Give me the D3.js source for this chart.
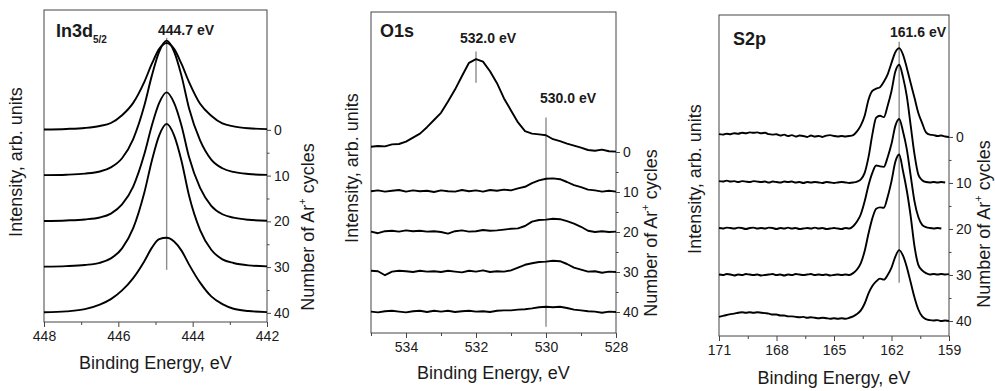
<!DOCTYPE html>
<html>
<head>
<meta charset="utf-8">
<script src="https://cdn.jsdelivr.net/npm/d3@7"></script>
<style>
  body { margin: 0; background: #fff; }
  svg text { font-family: "Liberation Sans", Arial, sans-serif; fill: #1a1a1a; }
</style>
</head>
<body>
<div id="chart"></div>
<script>
// Ar+ sputtering cycles, each spectrum sits on its own cycle tick
const cycles = [0, 10, 20, 30, 40];
const cycleMinor = [5, 15, 25, 35];

// In3d5/2 spectra (intensity in units of the cycle axis)
const inEnergy = [448, 447.4, 446.9, 446.5, 446.2, 445.9, 445.6, 445.3, 445.1, 444.9, 444.7, 444.5, 444.3, 444.1, 443.8, 443.5, 443.2, 442.9, 442.5, 442];
const in0  = [0.07, 0.2, 0.42, 0.85, 1.5, 3.2, 5.9, 10.5, 14.4, 17.7, 19, 17.7, 14.4, 10.5, 5.7, 3.1, 1.4, 0.77, 0.35, 0.15];
const in10 = [0.1, 0.2, 0.44, 0.9, 1.8, 3.8, 8, 15.3, 21.8, 27.1, 29.5, 27.1, 21.8, 14.8, 7.7, 3.5, 1.6, 0.8, 0.35, 0.15];
const in20 = [0.08, 0.2, 0.42, 0.85, 1.7, 3.7, 7.6, 14.7, 20.9, 25.9, 28.2, 25.9, 20.9, 14.1, 7.3, 3.4, 1.55, 0.8, 0.34, 0.14];
const in30 = [0.1, 0.22, 0.47, 0.94, 1.9, 4.1, 8.5, 16.3, 23.2, 28.8, 31.3, 28.8, 23.2, 15.7, 8.1, 3.8, 1.7, 0.9, 0.38, 0.16];
const in40 = [0.13, 0.33, 0.8, 1.8, 3.0, 4.9, 7.6, 11.3, 14.2, 16.1, 16.4, 15.6, 13.6, 10.6, 6.6, 3.6, 1.9, 0.9, 0.4, 0.15];

// O1s spectra
const oEnergy = [535, 534.8, 534.6, 534.4, 534.2, 534, 533.8, 533.6, 533.4, 533.2, 533, 532.8, 532.6, 532.4, 532.2, 532, 531.8, 531.6, 531.4, 531.2, 531, 530.8, 530.6, 530.4, 530.2, 530, 529.8, 529.6, 529.4, 529.2, 529, 528.8, 528.6, 528.4, 528.2, 528];
const o0  = [1.3, 1.5, 1.4, 1.9, 2.0, 2.6, 3.6, 4.6, 6.2, 8.0, 9.8, 12.6, 15.6, 19.0, 22.3, 23.2, 22.6, 20.2, 17.2, 13.4, 10.4, 7.4, 5.2, 4.6, 4.4, 4.2, 3.2, 2.7, 2.1, 1.6, 1.1, 0.5, 0.3, 0.6, 0.2, 0.1];
const o10 = [0.2, 0.4, 0.1, 0.3, 0.5, 0.1, 0.4, 0.2, 0.3, 0.0, 0.4, 0.2, 0.1, 0.5, 0.2, 0.4, 0.1, 0.5, 0.3, 0.6, 0.4, 0.9, 1.3, 2.2, 2.9, 3.3, 3.4, 3.2, 2.5, 1.7, 1.2, 0.6, 0.4, 0.1, 0.3, 0.1];
const o20 = [0.1, -0.3, 0.2, 0.3, 0.1, 0.4, 0.2, 0.3, 0.1, 0.2, 0.0, -0.4, 0.2, 0.4, 0.1, 0.2, 0.5, 0.3, 0.4, 0.6, 0.8, 0.9, 1.5, 2.6, 3.0, 3.1, 3.3, 3.2, 2.7, 2.1, 1.3, 0.3, 0.0, 0.2, 0.0, 0.1];
const o30 = [0.3, 0.2, -0.8, 0.1, 0.3, 0.2, 0.0, 0.3, 0.1, 0.2, 0.0, 0.3, 0.1, -0.1, 0.3, 0.1, 0.4, 0.0, 0.2, 0.1, 0.4, 1.1, 1.8, 2.2, 2.5, 2.6, 2.8, 2.7, 2.0, 1.1, 0.6, 0.1, 0.2, -0.2, 0.1, 0.0];
const o40 = [0.1, -0.1, 0.2, 0.3, 0.1, -0.1, 0.2, 0.3, 0.0, 0.3, 0.1, 0.3, 0.0, 0.2, 0.3, 0.1, 0.2, 0.0, 0.3, 0.4, 0.4, 0.6, 0.7, 0.9, 1.2, 1.3, 1.2, 1.3, 1.0, 0.6, 0.4, 0.2, 0.1, -0.2, 0.1, 0.0];

// S2p spectra (null = no data recorded)
const sEnergy = [171, 170.8, 170.6, 170.4, 170.2, 170, 169.8, 169.6, 169.4, 169.2, 169, 168.8, 168.6, 168.4, 168.2, 168, 167.8, 167.6, 167.4, 167.2, 167, 166.8, 166.6, 166.4, 166.2, 166, 165.8, 165.6, 165.4, 165.2, 165, 164.8, 164.6, 164.4, 164.2, 164, 163.8, 163.6, 163.4, 163.2, 163, 162.8, 162.6, 162.4, 162.2, 162, 161.8, 161.6, 161.4, 161.2, 161, 160.8, 160.6, 160.4, 160.2, 160, 159.8, 159.6, 159.4, 159.2, 159];
const s0  = [0.6, 0.5, 0.7, 0.6, 0.8, 0.7, 0.9, 0.8, 1.0, 0.9, 1.0, 0.8, 0.9, 0.6, 0.5, 0.6, 0.3, 0.5, 0.2, 0.4, 0.1, 0.3, 0.2, 0.0, 0.3, 0.1, 0.2, 0.0, 0.3, 0.4, 0.2, 0.1, 0.2, 0.1, 0.2,
             0.4, 1.2, 2.5, 4.6, 8.1, 10.0, 10.5, 10.8, 12.0, 13.6, 16.1, 18.4, 19.3, 17.9, 15.0, 11.7, 8.5, 5.2, 3.0, 1.0, 0.5, 0.4, 0.2, 0.3, 0.1, 0.0];
const s10 = [0.4, 0.3, 0.5, 0.3, 0.4, 0.2, 0.4, 0.3, 0.2, 0.4, 0.3, 0.2, 0.3, 0.1, 0.3, 0.2, 0.1, 0.3, 0.2, 0.3, 0.1, 0.2, 0.0, 0.2, 0.1, 0.2, 0.1, 0.0, 0.2, 0.1, 0.0, 0.1, 0.2, 0.1, 0.0,
             0.1, 0.3, 0.8, 2.2, 5.6, 10.5, 14.2, 14.6, 14.3, 16.8, 20.0, 24.2, 25.7, 23.0, 18.8, 12.5, 6.2, 1.8, 0.6, 0.2, 0.1, 0.2, 0.1, 0.2, 0.1, null];
const s20 = [0.2, 0.1, 0.3, 0.2, 0.1, 0.3, 0.2, 0.0, 0.2, 0.3, 0.1, 0.2, 0.1, 0.3, 0.2, 0.0, 0.2, 0.1, 0.3, 0.1, 0.2, 0.0, 0.1, 0.2, 0.1, 0.3, 0.1, 0.2, 0.0, 0.1, 0.2, 0.1, 0.0, 0.2, 0.1,
             0.6, 1.6, 3.2, 6.0, 9.5, 12.2, 13.8, 13.6, 13.5, 15.6, 18.5, 22.4, 23.9, 21.2, 17.3, 11.6, 6.0, 2.6, 0.9, 0.4, 0.2, 0.1, 0.2, 0.1, null, null];
const s30 = [0.1, 0.0, 0.2, 0.1, -0.1, 0.1, 0.0, 0.2, 0.1, 0.0, 0.1, -0.1, 0.0, 0.1, 0.2, 0.0, 0.1, -0.1, 0.1, 0.0, 0.2, 0.1, 0.0, 0.1, 0.2, 0.0, 0.1, 0.0, 0.1, -0.1, 0.0, 0.1, 0.0, 0.1, 0.0,
             0.4, 1.2, 2.6, 5.2, 9.0, 12.3, 14.4, 14.7, 14.6, 17.0, 20.4, 24.6, 26.2, 22.6, 18.3, 12.8, 6.2, 2.2, 1.0, 0.4, 0.1, 0.2, 0.1, 0.2, 0.1, 0.2];
const s40 = [0.9, 1.1, 1.3, 1.5, 1.6, 1.8, 1.9, 1.8, 1.9, 1.8, 1.9, 1.8, 1.7, 1.6, 1.4, 1.4, 1.2, 1.2, 1.0, 1.0, 0.9, 0.8, 0.9, 0.7, 0.8, 0.7, 0.6, 0.7, 0.6, 0.5, 0.6, 0.5, 0.6, 0.5, 0.7,
             1.0, 1.5, 2.3, 3.8, 6.0, 7.6, 8.6, 9.2, 9.0, 10.0, 11.6, 14.0, 15.4, 14.2, 11.7, 8.4, 5.1, 2.5, 1.0, 0.4, 0.2, 0.1, 0.2, 0.0, 0.1, 0.0];

// peak markers: energy, span on the cycle axis, label
const inMarkers = [{ e: 444.7, from: -20.1, to: 30.6, label: "444.7 eV" }];
const oMarkers = [
    { e: 532.0, from: -25.1, to: -17.3, label: "532.0 eV" },
    { e: 530.0, from: -8.6, to: 43.7, label: "530.0 eV" }
];
const sMarkers = [{ e: 161.6, from: -20.7, to: 31.7, label: "161.6 eV" }];

const svg = d3.select("#chart")
    .append("svg")
    .attr("width", 995)
    .attr("height", 391);

const panels = [
    {
        title: "In3d", sub: "5/2", titleX: 56, titleY: 37,
        energy: inEnergy, series: [in0, in10, in20, in30, in40], curve: d3.curveMonotoneX,
        box: { left: 44, top: 10, right: 267, bottom: 322 },
        xDomain: [448, 442], xTicks: [448, 446, 444, 442], xMinor: [447, 445, 443],
        yDomain: [-26.2, 42],
        markers: inMarkers, labelPos: [[158, 35]],
        leftTitleX: 22, leftTitleY: 162, rightTitleX: 314, rightTitleY: 227, xTitleY: 369
    },
    {
        title: "O1s", titleX: 380, titleY: 37,
        energy: oEnergy, series: [o0, o10, o20, o30, o40], curve: d3.curveLinear,
        box: { left: 371, top: 12, right: 616, bottom: 333 },
        xDomain: [535, 528], xTicks: [534, 532, 530, 528], xMinor: [535, 533, 531, 529],
        yDomain: [-35, 45.25],
        markers: oMarkers, labelPos: [[460, 43], [540, 103]],
        leftTitleX: 358, leftTitleY: 168, rightTitleX: 657, rightTitleY: 233, xTitleY: 379
    },
    {
        title: "S2p", titleX: 733, titleY: 45,
        energy: sEnergy, series: [s0, s10, s20, s30, s40], curve: d3.curveMonotoneX,
        box: { left: 719, top: 15, right: 949, bottom: 336 },
        xDomain: [171, 159], xTicks: [171, 168, 165, 162, 159], xMinor: [169.5, 166.5, 163.5, 160.5],
        yDomain: [-26.5, 43.26],
        markers: sMarkers, labelPos: [[890, 37]],
        leftTitleX: 701, leftTitleY: 179, rightTitleX: 990, rightTitleY: 224, xTitleY: 384
    }
];

panels.forEach(p => {
    const b = p.box;
    const x = d3.scaleLinear().domain(p.xDomain).range([b.left, b.right]);
    const y = d3.scaleLinear().domain(p.yDomain).range([b.top, b.bottom]);
    const g = svg.append("g");

    // frame
    g.append("rect")
        .attr("x", b.left).attr("y", b.top)
        .attr("width", b.right - b.left).attr("height", b.bottom - b.top)
        .attr("fill", "none").attr("stroke", "#444").attr("stroke-width", 1);

    // bottom axis, major + minor ticks
    g.append("g")
        .attr("transform", `translate(0, ${b.bottom})`)
        .call(d3.axisBottom(x).tickValues(p.xTicks).tickFormat(d3.format("d"))
            .tickSize(5).tickPadding(4).tickSizeOuter(0));
    g.append("g")
        .attr("transform", `translate(0, ${b.bottom})`)
        .call(d3.axisBottom(x).tickValues(p.xMinor).tickSize(3).tickFormat("").tickSizeOuter(0));

    // right axis = Ar+ cycles
    g.append("g")
        .attr("transform", `translate(${b.right}, 0)`)
        .call(d3.axisRight(y).tickValues(cycles).tickFormat(d3.format("d"))
            .tickSize(4).tickPadding(3).tickSizeOuter(0));
    g.append("g")
        .attr("transform", `translate(${b.right}, 0)`)
        .call(d3.axisRight(y).tickValues(cycleMinor).tickSize(2.5).tickFormat("").tickSizeOuter(0));

    g.selectAll(".domain").remove();
    g.selectAll(".tick line").attr("stroke", "#444");
    g.selectAll(".tick text")
        .style("font-size", "14px")
        .style("font-family", "'Liberation Sans', Arial, sans-serif")
        .attr("fill", "#1a1a1a");

    // marker lines
    p.markers.forEach((m, i) => {
        g.append("line")
            .attr("x1", x(m.e)).attr("x2", x(m.e))
            .attr("y1", y(m.from)).attr("y2", y(m.to))
            .attr("stroke", "#8c8c8c").attr("stroke-width", 1.4);
        g.append("text")
            .attr("x", p.labelPos[i][0]).attr("y", p.labelPos[i][1])
            .style("font-size", "14px").style("font-weight", "bold")
            .text(m.label);
    });

    // spectra, each offset to its cycle tick
    const line = d3.line()
        .defined(d => d.v !== null)
        .x(d => x(d.e))
        .y(d => y(d.c - d.v))
        .curve(p.curve);

    p.series.forEach((vals, k) => {
        const pts = vals.map((v, i) => ({ e: p.energy[i], v: v, c: cycles[k] }));
        g.append("path")
            .datum(pts)
            .attr("d", line)
            .attr("fill", "none")
            .attr("stroke", "#000")
            .attr("stroke-width", 1.9)
            .attr("stroke-linejoin", "round");
    });

    // panel title
    const t = g.append("text")
        .attr("x", p.titleX).attr("y", p.titleY)
        .style("font-size", "18px").style("font-weight", "bold")
        .text(p.title);
    if (p.sub) {
        t.append("tspan").attr("dy", 6).style("font-size", "10px").text(p.sub);
    }

    // axis titles
    g.append("text")
        .attr("transform", `translate(${p.leftTitleX}, ${p.leftTitleY}) rotate(-90)`)
        .attr("text-anchor", "middle")
        .style("font-size", "18px")
        .text("Intensity, arb. units");

    const rt = g.append("text")
        .attr("transform", `translate(${p.rightTitleX}, ${p.rightTitleY}) rotate(-90)`)
        .attr("text-anchor", "middle")
        .style("font-size", "18px")
        .text("Number of Ar");
    rt.append("tspan").attr("dy", -8).style("font-size", "11px").text("+");
    rt.append("tspan").attr("dy", 8).text(" cycles");

    g.append("text")
        .attr("x", (b.left + b.right) / 2).attr("y", p.xTitleY)
        .attr("text-anchor", "middle")
        .style("font-size", "18px")
        .text("Binding Energy, eV");
});
</script>
</body>
</html>
